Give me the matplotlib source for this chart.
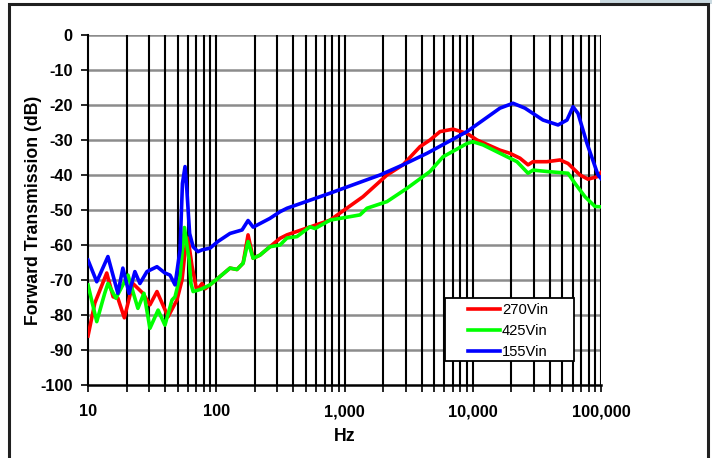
import matplotlib
matplotlib.use("Agg")
import matplotlib.pyplot as plt
from matplotlib.patches import Rectangle
from matplotlib.ticker import FixedLocator, NullFormatter, NullLocator

# ---------------- data ----------------
f_270 = [10, 11.3, 14.0, 15.7, 17.1, 19.2, 22.4, 26.8, 30.4, 34.5, 42.1, 49.4, 54.1,
         57.1, 60.2, 64.7, 70, 74, 77.4, 82, 89.4, 107, 128, 145, 162, 177, 194, 219,
         262, 314, 356, 771, 1394, 2145, 2858, 3880, 4642, 5556, 7015, 9014, 10790,
         16300, 19500, 23350, 26980, 29510, 37930, 47900, 55300, 68600, 79200,
         93100, 100000]
db_270 = [-86, -76.6, -68, -74.8, -75.2, -80.8, -71, -73.8, -77.1, -73.3, -80.5, -75.7,
          -70, -62, -58, -66, -72.5, -72, -71, -72.5, -71.4, -69, -66.6, -67, -65.2,
          -57.1, -63.8, -62.9, -60.5, -58.1, -57.1, -52.9, -46.2, -40, -37.1, -31.9,
          -30, -27.6, -26.9, -28.1, -30, -32.9, -33.8, -35.2, -37.1, -36.2, -36.2,
          -35.7, -36.7, -40, -41.2, -40.5, -39.3]

f_425 = [10, 11.7, 13.5, 14.3, 16.5, 20.5, 24.5, 27.3, 30.4, 35.2, 39.8, 45.2, 47.7,
         52.2, 54.5, 56.5, 59, 61.5, 63.5, 66, 72, 77.4, 89.4, 107, 128, 145, 162,
         177, 194, 219, 262, 314, 356, 426, 538, 590, 771, 1321, 1497, 2145, 3070,
         4642, 5865, 9014, 10040, 12020, 19500, 22130, 26980, 29510, 37930, 55300,
         62700, 75000, 89800, 100000]
db_425 = [-71.4, -81.9, -73.8, -71, -75.2, -68.6, -78.1, -73.8, -83.8, -78.6, -82.9,
          -75.7, -74.8, -69, -61.4, -55, -60, -64.3, -71, -73.3, -72.9, -72.5, -71.4,
          -69, -66.6, -67, -65.2, -59, -63.8, -62.9, -60.5, -60, -58, -57.6, -54.8,
          -55.3, -52.9, -51.4, -49.5, -47.6, -43.8, -39, -34.8, -31, -30.5, -31.4,
          -35.2, -36.2, -39.5, -38.6, -39, -39.5, -42.4, -46.2, -49, -49.1]

f_155 = [10, 11.7, 14.3, 17.1, 18.7, 20.9, 23.2, 25.4, 28.8, 34.5, 39.8, 43.6, 47.7,
         52.2, 54.5, 57.1, 59, 62, 66, 72, 77.4, 89.4, 103, 128, 159, 177, 194, 262,
         314, 356, 771, 1891, 2858, 4400, 9014, 16300, 20600, 25530, 35320, 46240,
         54300, 60500, 66200, 77800, 94800, 100000]
db_155 = [-64.3, -70.5, -63.3, -73.8, -66.6, -73.8, -67.6, -71, -67.6, -66.2, -68,
          -68.6, -71.4, -61.4, -42.4, -37.6, -44.3, -56.7, -60.5, -61.9, -61.4, -60.9,
          -59, -56.7, -55.7, -53, -54.9, -52.4, -50.5, -49.5, -45.2, -40, -37.1, -33.8,
          -27.6, -20.9, -19.5, -20.9, -24.3, -25.7, -24.3, -20.5, -22.4, -31, -40, -41]

series_labels = ["270Vin", "425Vin", "155Vin"]
series_colors = ["#ff0000", "#00ff00", "#0000ff"]
x_ticks = [10, 100, 1000, 10000, 100000]
x_tick_labels = ["10", "100", "1,000", "10,000", "100,000"]
y_ticks = list(range(-100, 1, 10))
y_tick_labels = [str(v) for v in y_ticks]

# ---------------- figure ----------------
plt.rcParams['font.family'] = ['Liberation Sans', 'DejaVu Sans']
plt.rcParams['axes.unicode_minus'] = False
W, H = 712, 458
fig = plt.figure(figsize=(W / 100, H / 100), dpi=100)

# slide background hint and outer frame
fig.patches.append(Rectangle((600 / W, 1 - 4 / H), 112 / W, 4 / H, transform=fig.transFigure,
                             facecolor="#c9d9e0", edgecolor="none", zorder=0))
fig.patches.append(Rectangle((8.5 / W, -0.05), (707.5 - 8.5) / W, 1.05 - 4.5 / H,
                             transform=fig.transFigure, facecolor="none",
                             edgecolor="#202020", linewidth=2.2, zorder=1))

ax = fig.add_axes([88 / W, 1 - 385 / H, (601 - 88) / W, (385 - 35) / H])
ax.set_xscale("log")
ax.set_xlim(10, 100000)
ax.set_ylim(-100, 0)

# grid lines
minor_pos = [m * 10 ** e for e in range(1, 5) for m in range(2, 10)]
for v in y_ticks[1:]:
    ax.axhline(v, color="#8c8c8c", linewidth=1.8, zorder=1)
for v in minor_pos + x_ticks[1:]:
    ax.axvline(v, color="black", linewidth=1.5, zorder=1.5)

for f, d, c, lab in zip([f_270, f_425, f_155], [db_270, db_425, db_155],
                        series_colors, series_labels):
    ax.plot(f, d, color=c, linewidth=2.6, label=lab, zorder=3, solid_joinstyle="round")

# spines
for s in ["top", "right"]:
    ax.spines[s].set_visible(False)
ax.spines["left"].set_linewidth(1.5)
ax.spines["bottom"].set_linewidth(1.8)

ax.xaxis.set_major_locator(FixedLocator(x_ticks))
ax.set_xticklabels(x_tick_labels)
ax.xaxis.set_minor_locator(FixedLocator(minor_pos))
ax.xaxis.set_minor_formatter(NullFormatter())
ax.tick_params(axis="x", which="both", direction="out", length=5, width=1.2,
               labelsize=11.8, pad=9)
ax.set_yticks(y_ticks)
ax.set_yticklabels(y_tick_labels)
ax.yaxis.set_minor_locator(NullLocator())
ax.tick_params(axis="y", direction="out", length=5, width=1.2, labelsize=11.8, pad=6)
for t in ax.get_xticklabels() + ax.get_yticklabels():
    t.set_fontweight("bold")

ax.set_xlabel("Hz", fontsize=12.7, fontweight="bold", labelpad=6)
ax.set_ylabel("Forward Transmission (dB)", fontsize=12.7, fontweight="bold", labelpad=-1)

# legend: frame drawn as its own box, entries placed inside
ax.add_patch(Rectangle(((445 - 88) / 513, (385 - 361) / 350), (574 - 445) / 513,
                       (361 - 298) / 350, transform=ax.transAxes, facecolor="white",
                       edgecolor="black", linewidth=1.3, zorder=5))
leg = ax.legend(loc="upper left", bbox_to_anchor=((468 - 88) / 513, (385 - 303) / 350),
                fontsize=10.6, frameon=False, handlelength=2.15, handletextpad=0.15,
                labelspacing=0.47, borderpad=0, borderaxespad=0)
leg.set_zorder(6)

fig.savefig("out.png", dpi=100)
